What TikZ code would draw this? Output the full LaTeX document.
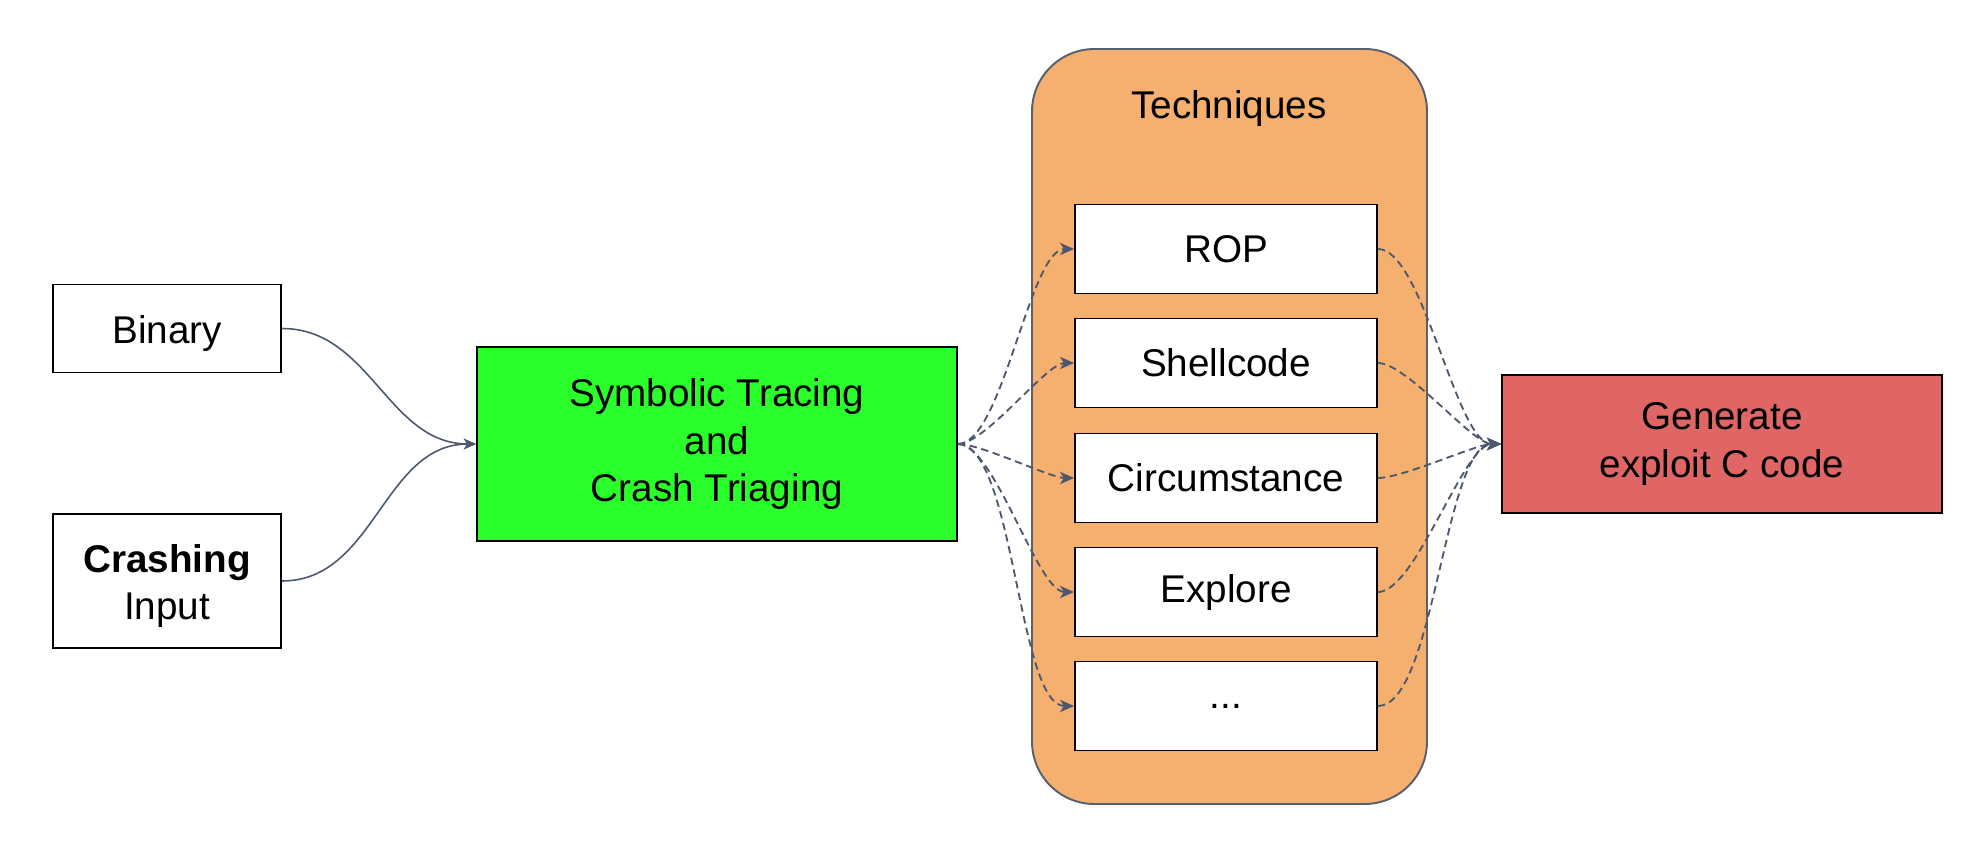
\documentclass[tikz,border=0pt]{standalone}
\usepackage{fontspec}
\setmainfont{Liberation Sans}
\usetikzlibrary{arrows.meta}
\definecolor{conn}{HTML}{4B586D}
\definecolor{gbox}{HTML}{2BFF2B}
\definecolor{obox}{HTML}{F5B06F}
\definecolor{rbox}{HTML}{E06666}
\definecolor{cborder}{HTML}{56606F}
\tikzset{
  box/.style={draw=black, line width=1.1pt, align=center, inner sep=0pt,
    font=\fontsize{22}{27}\selectfont},
  techbox/.style={box, fill=white, minimum width=6.04cm, minimum height=1.78cm},
  solidconn/.style={draw=conn, line width=0.9pt, -{Stealth[length=7pt,width=6pt,inset=2pt]}},
  dashconn/.style={draw=conn, line width=1.05pt, dash pattern=on 4.2pt off 2.6pt,
    -{Stealth[length=8pt,width=7pt,inset=2.2pt]}, looseness=0.5}
}
\begin{document}
\begin{tikzpicture}[x=0.02cm, y=-0.02cm]
\useasboundingbox (0,0) rectangle (1964,862);
% container
\draw[fill=obox, draw=cborder, line width=1.1pt, rounded corners=1.25cm]
  (1032,49) rectangle (1427,804);
\node[font=\fontsize{22}{27}\selectfont, anchor=base] (tech) at (1229,118) {Techniques};
% left nodes
\node[box, minimum width=4.56cm, minimum height=1.76cm] (bin) at (167,328.5)
  {\raisebox{-0.1cm}[\height][\depth]{Binary}};
\node[box, minimum width=4.56cm, minimum height=2.68cm] (crash) at (167,581)
  {\raisebox{-0.11cm}[\height][\depth]{\begin{tabular}{@{}c@{}}\textbf{Crashing}\\Input\end{tabular}}};
\node[box, fill=gbox, minimum width=9.6cm, minimum height=3.88cm] (sym) at (717,444) {Symbolic Tracing\\and\\Crash Triaging};
% technique boxes
\node[techbox] (rop) at (1226,249) {ROP};
\node[techbox] (shell) at (1226,363) {Shellcode};
\node[techbox] (circ) at (1226,478) {Circumstance};
\node[techbox] (expl) at (1226,592) {Explore};
\node[techbox] (dots) at (1226,706) {...};
% red
\node[box, fill=rbox, minimum width=8.8cm, minimum height=2.76cm] (gen) at (1722,444) {Generate\\exploit C code};
% connectors
\draw[solidconn] (bin.east) to[out=0,in=180] (sym.west);
\draw[solidconn] (crash.east) to[out=0,in=180] (sym.west);
\foreach \t in {rop,shell,circ,expl,dots}{
  \draw[dashconn] (sym.east) to[out=0,in=180] (\t.west);
  \draw[dashconn] (\t.east) to[out=0,in=180] (gen.west);
}
\end{tikzpicture}
\end{document}
